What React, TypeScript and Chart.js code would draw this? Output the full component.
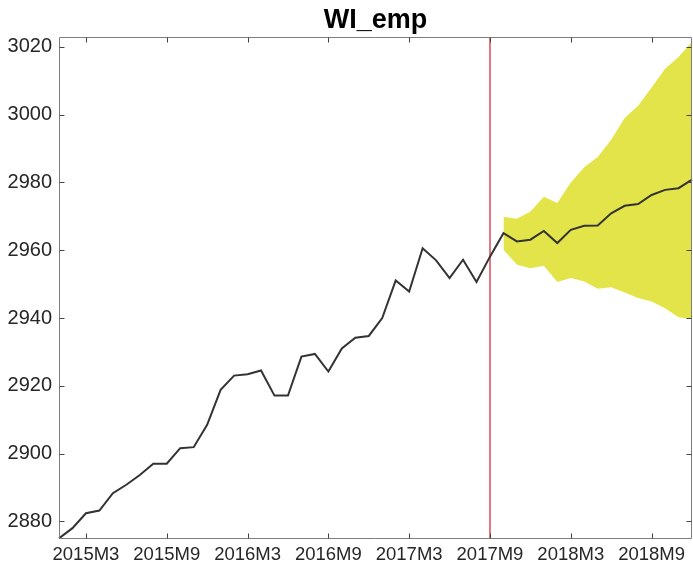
import React, { useEffect, useRef } from "react";
import { Chart, registerables } from "chart.js";

Chart.register(...registerables);

// ---- data ----
const years = [2015, 2016, 2017, 2018];
const months: string[] = [];
for (const yr of years) for (let m = 1; m <= 12; m++) months.push(`${yr}M${m}`);

// observed, 2015M1 .. 2017M10
const actual = [
  2875.0, 2878.0, 2882.4, 2883.2, 2888.3, 2890.8, 2893.7, 2897.0, 2897.0, 2901.6,
  2901.9, 2908.5, 2918.8, 2923.0, 2923.4, 2924.5, 2917.1, 2917.1, 2928.6, 2929.4,
  2924.2, 2931.0, 2934.2, 2934.7, 2940.0, 2951.1, 2947.8, 2960.6, 2957.0, 2951.8,
  2957.2, 2950.6, 2958.1, 2965.0,
];
// forecast mean, 2017M11 .. 2018M12
const forecastMean = [
  2962.6, 2963.1, 2965.7, 2962.1, 2966.0, 2967.2, 2967.3, 2970.9, 2973.1, 2973.6,
  2976.3, 2977.8, 2978.3, 2980.8,
];
// band, 2017M10 .. 2018M12
const bandStart = "2017M10";
const bandUpper = [
  2969.9, 2969.3, 2971.4, 2975.8, 2973.9, 2980.0, 2984.5, 2987.5, 2992.6, 2999.0,
  3002.6, 3008.0, 3013.5, 3017.0, 3021.5,
];
const bandLower = [
  2960.1, 2955.7, 2954.7, 2955.4, 2950.6, 2951.8, 2950.8, 2948.6, 2949.1, 2947.5,
  2945.9, 2944.9, 2942.9, 2940.2, 2939.6,
];
const forecastLine = "2017M9";
const yMin = 2874.8;
const yMax = 3022.9;
const yTicks = [2880, 2900, 2920, 2940, 2960, 2980, 3000, 3020];
const xTickLabels = ["2015M3", "2015M9", "2016M3", "2016M9", "2017M3", "2017M9", "2018M3", "2018M9"];
const title = "WI_emp";

const FONT = "'Liberation Sans', Arial, Helvetica, sans-serif";

const boxPlugin = {
  id: "matlabBox",
  afterDatasetsDraw(chart: any) {
    const { ctx, chartArea, scales } = chart;
    const { left, right, top, bottom } = chartArea;
    const x = scales.x;
    const y = scales.y;
    ctx.save();
    ctx.strokeStyle = "#7d7d7d";
    ctx.lineWidth = 1;
    const L = Math.round(left) + 0.5;
    const R = Math.round(right) - 0.5;
    const T = Math.round(top) + 0.5;
    const B = Math.round(bottom) - 0.5;
    ctx.beginPath();
    ctx.moveTo(L, T);
    ctx.lineTo(R, T);
    ctx.lineTo(R, B);
    ctx.lineTo(L, B);
    ctx.closePath();
    ctx.stroke();
    ctx.strokeStyle = "#444";
    const tl = 5;
    ctx.beginPath();
    for (const t of x.ticks) {
      const px = Math.round(x.getPixelForValue(t.value)) + 0.5;
      ctx.moveTo(px, B);
      ctx.lineTo(px, B - tl);
      ctx.moveTo(px, T);
      ctx.lineTo(px, T + tl);
    }
    for (const t of y.ticks) {
      const py = Math.round(y.getPixelForValue(t.value)) + 0.5;
      ctx.moveTo(L, py);
      ctx.lineTo(L + tl, py);
      ctx.moveTo(R, py);
      ctx.lineTo(R - tl, py);
    }
    ctx.stroke();
    ctx.restore();
  },
  afterDraw(chart: any) {
    const { ctx, chartArea } = chart;
    ctx.save();
    ctx.fillStyle = "#000";
    ctx.font = `bold 27px ${FONT}`;
    ctx.textAlign = "center";
    ctx.textBaseline = "alphabetic";
    ctx.fillText(title, (chartArea.left + chartArea.right) / 2, 28);
    ctx.restore();
  },
};

export default function App() {
  const ref = useRef<HTMLCanvasElement | null>(null);
  useEffect(() => {
    if (!ref.current) return;
    const lineData = [...actual, ...forecastMean];
    const si = months.indexOf(bandStart);
    const lowerPts = bandLower.map((v, i) => ({ x: months[si + i], y: v }));
    const upperPts = bandUpper.map((v, i) => ({ x: months[si + i], y: v }));
    const chart = new Chart(ref.current, {
      type: "line",
      data: {
        labels: months,
        datasets: [
          {
            data: lineData,
            borderColor: "#333333",
            borderWidth: 2,
            pointRadius: 0,
            tension: 0,
            order: 0,
          },
          {
            data: [
              { x: forecastLine, y: yMin },
              { x: forecastLine, y: yMax },
            ] as any,
            borderColor: "#e07882",
            borderWidth: 2,
            pointRadius: 0,
            order: 1,
          },
          {
            data: lowerPts as any,
            borderWidth: 0,
            borderColor: "rgba(0,0,0,0)",
            pointRadius: 0,
            order: 2,
          },
          {
            data: upperPts as any,
            borderWidth: 0,
            borderColor: "rgba(0,0,0,0)",
            backgroundColor: "#e3e44a",
            pointRadius: 0,
            fill: "-1",
            order: 2,
          },
        ],
      },
      options: {
        responsive: false,
        animation: false,
        layout: { padding: { top: 37, right: 1, left: 0, bottom: 0 } },
        plugins: { legend: { display: false }, title: { display: false }, tooltip: { enabled: false } },
        scales: {
          x: {
            type: "category",
            offset: false,
            grid: { display: false, drawTicks: false },
            border: { display: false },
            afterFit: (s: any) => {
              s.height = 30;
            },
            afterBuildTicks: (s: any) => {
              s.ticks = xTickLabels.map((l) => ({ value: months.indexOf(l) }));
            },
            ticks: {
              autoSkip: false,
              maxRotation: 0,
              padding: 5,
              color: "#262626",
              font: { size: 18.5, family: FONT },
              callback: (v: any) => months[v],
            },
          },
          y: {
            min: yMin,
            max: yMax,
            grid: { display: false, drawTicks: false },
            border: { display: false },
            afterFit: (s: any) => {
              s.width = 59;
            },
            afterBuildTicks: (s: any) => {
              s.ticks = yTicks.map((v) => ({ value: v }));
            },
            ticks: {
              padding: 7,
              color: "#262626",
              font: { size: 20, family: FONT },
              callback: (v: any) => String(v),
            },
          },
        },
      },
      plugins: [boxPlugin],
    });
    return () => chart.destroy();
  }, []);
  return (
    <div style={{ position: "fixed", left: 0, top: 0, width: 693, height: 569, background: "#fff" }}>
      <canvas ref={ref} width={693} height={569} />
    </div>
  );
}
